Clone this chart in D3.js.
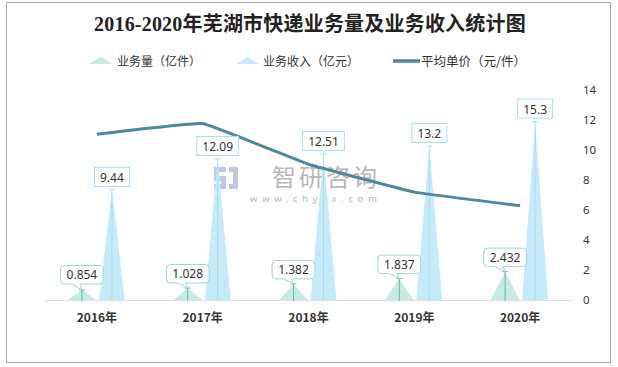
<!DOCTYPE html>
<html>
<head>
<meta charset="utf-8">
<script src="https://cdn.jsdelivr.net/npm/d3@7/dist/d3.min.js"></script>
<style>
html,body{margin:0;padding:0;background:#fff;}
svg{display:block;}
</style>
</head>
<body>
<svg id="chart" width="618" height="367"></svg>
<script>
const title = "2016-2020年芜湖市快递业务量及业务收入统计图";
const categories = ["2016年", "2017年", "2018年", "2019年", "2020年"];
const volume = [0.854, 1.028, 1.382, 1.837, 2.432];
const revenue = [9.44, 12.09, 12.51, 13.2, 15.3];
const price = [11.05, 11.76, 9.05, 7.19, 6.29];
const rightTicks = [0, 2, 4, 6, 8, 10, 12, 14];
const seriesNames = ["业务量（亿件）", "业务收入（亿元）", "平均单价（元/件）"];

const svg = d3.select("#chart");
const cjk = "'Noto Sans CJK SC','Noto Sans',sans-serif";
const num = "'Noto Sans','Noto Sans CJK SC',sans-serif";

const cVolFill = "#c9e9e3", cVolLine = "#62bbac", cVolBox = "#9fd7cf";
const cRevFill = "#c5ebf9", cRevLine = "#a6def1";
const cPrice = "#4f879b";

// border
svg.append("rect").attr("x", 6.5).attr("y", 2.5).attr("width", 604).attr("height", 360)
  .attr("fill", "#fff").attr("stroke", "#aaa").attr("stroke-width", 1);

// title
svg.append("text").attr("x", 310).attr("y", 31).attr("text-anchor", "middle")
  .attr("font-family", "'Liberation Serif','Noto Sans CJK SC',serif")
  .attr("font-size", 20).attr("font-weight", "bold").attr("letter-spacing", 0.2).attr("fill", "#222").text(title);

// scales
const x = d3.scaleBand().domain(categories).range([44, 573]);
const cx = d => x(d) + x.bandwidth() / 2;
const yL = d3.scaleLinear().domain([0, 18]).range([300, 90]);
const yR = d3.scaleLinear().domain([0, 14]).range([300, 90]);

// watermark
const wm = svg.append("g").attr("opacity", 0.7);
wm.append("path").attr("d", "M214,167h12v5h-7v4h7v13h-12v-5h7v-3h-7z M229,167h9v22h-9v-5h4v-12h-4z")
  .attr("fill", "#9fb3da");
wm.append("text").attr("x", 272).attr("y", 186).attr("font-family", cjk).attr("font-size", 24)
  .attr("letter-spacing", 3).attr("fill", "#9a9a9a").text("智研咨询");
wm.append("text").attr("x", 250).attr("y", 202).attr("font-family", num).attr("font-size", 9.5)
  .attr("letter-spacing", 4.6).attr("fill", "#9a9a9a").text("www.chyxx.com");

// baseline
svg.append("line").attr("x1", 44).attr("x2", 573).attr("y1", 300.5).attr("y2", 300.5)
  .attr("stroke", "#ddd").attr("stroke-width", 1);

// x axis labels
const xAxis = d3.axisBottom(x).tickSize(0).tickPadding(0);
const gx = svg.append("g").attr("transform", "translate(0,313)").call(xAxis);
gx.select(".domain").remove();
gx.selectAll("text").attr("font-family", cjk).attr("font-size", 12).attr("font-weight", "bold")
  .attr("fill", "#333").attr("dy", "0.71em");

// right axis
const yAxis = d3.axisRight(yR).tickValues(rightTicks).tickSize(0).tickPadding(0);
const gy = svg.append("g").attr("transform", "translate(583,0)").call(yAxis);
gy.select(".domain").remove();
gy.selectAll("text").attr("font-family", num).attr("font-size", 11.5).attr("fill", "#333");

const tri = (c, w, yTop) => `M${c - w / 2},300 L${c},${yTop} L${c + w / 2},300 Z`;

// volume triangles
categories.forEach((cat, i) => {
  const c = cx(cat) - 15;
  const yt = yL(volume[i]);
  svg.append("path").attr("d", tri(c, 29, yt)).attr("fill", cVolFill);
  svg.append("line").attr("x1", c).attr("x2", c).attr("y1", yt).attr("y2", 301)
    .attr("stroke", cVolLine).attr("stroke-width", 1);
  svg.append("line").attr("x1", c - 3).attr("x2", c + 3).attr("y1", yt).attr("y2", yt)
    .attr("stroke", cVolLine).attr("stroke-width", 1);
});

// revenue triangles
categories.forEach((cat, i) => {
  const c = cx(cat) + 15;
  const yt = yL(revenue[i]);
  svg.append("path").attr("d", tri(c, 26, yt)).attr("fill", cRevFill);
  svg.append("line").attr("x1", c).attr("x2", c).attr("y1", yt).attr("y2", 301)
    .attr("stroke", cRevLine).attr("stroke-width", 1);
  svg.append("line").attr("x1", c - 3).attr("x2", c + 3).attr("y1", yt).attr("y2", yt)
    .attr("stroke", cRevLine).attr("stroke-width", 1);
});

// price line
const line = d3.line().x((d, i) => cx(categories[i])).y(d => yR(d)).curve(d3.curveCardinal.tension(0.78));
svg.append("path").datum(price).attr("d", line).attr("fill", "none")
  .attr("stroke", cPrice).attr("stroke-width", 3).attr("stroke-linejoin", "round");

// revenue labels
categories.forEach((cat, i) => {
  const c = cx(cat) + 15;
  const yt = yL(revenue[i]);
  const g = svg.append("g");
  const t = g.append("text").attr("x", c).attr("y", yt - 8).attr("text-anchor", "middle")
    .attr("font-family", num).attr("font-size", 12).attr("fill", "#333").text(String(revenue[i]));
  const bb = t.node().getBBox();
  g.insert("rect", "text").attr("x", c - bb.width / 2 - 5.5).attr("y", yt - 22.5)
    .attr("width", bb.width + 11).attr("height", 19).attr("fill", "#fff")
    .attr("stroke", cRevLine).attr("stroke-width", 1);
});

// volume labels (callouts)
categories.forEach((cat, i) => {
  const c = cx(cat) - 15;
  const yt = yL(volume[i]);
  const g = svg.append("g");
  const bottom = Math.min(yt - 5, 284);
  const top = bottom - 19;
  const t = g.append("text").attr("x", c).attr("y", bottom - 5).attr("text-anchor", "middle")
    .attr("font-family", num).attr("font-size", 12).attr("fill", "#333").text(String(volume[i]));
  const bb = t.node().getBBox();
  const w = bb.width + 12, l = c - w / 2, r = c + w / 2, rad = 4;
  const p = d3.path();
  p.moveTo(l + rad, top + 0.5);
  p.lineTo(r - rad, top + 0.5);
  p.arcTo(r, top + 0.5, r, top + rad, rad);
  p.lineTo(r, bottom - rad);
  p.arcTo(r, bottom, r - rad, bottom, rad);
  p.lineTo(c - 2, bottom);
  p.lineTo(c, yt);
  p.lineTo(c - 10, bottom);
  p.lineTo(l + rad, bottom);
  p.arcTo(l, bottom, l, bottom - rad, rad);
  p.lineTo(l, top + rad);
  p.arcTo(l, top + 0.5, l + rad, top + 0.5, rad);
  p.closePath();
  g.insert("path", "text").attr("d", p.toString()).attr("fill", "#fff")
    .attr("stroke", cVolBox).attr("stroke-width", 1);
});

// legend
const lg = svg.append("g");
lg.append("path").attr("d", "M88,64 L100.5,57 L113,64 Z").attr("fill", cVolFill);
lg.append("text").attr("x", 117).attr("y", 65.5).attr("font-family", cjk).attr("font-size", 12)
  .attr("fill", "#333").text(seriesNames[0]);
lg.append("path").attr("d", "M236,64 L247.5,57 L259,64 Z").attr("fill", cRevFill);
lg.append("text").attr("x", 263).attr("y", 65.5).attr("font-family", cjk).attr("font-size", 12)
  .attr("fill", "#333").text(seriesNames[1]);
lg.append("line").attr("x1", 393).attr("x2", 420).attr("y1", 61).attr("y2", 61)
  .attr("stroke", cPrice).attr("stroke-width", 3.5);
lg.append("text").attr("x", 421).attr("y", 65.5).attr("font-family", cjk).attr("font-size", 12.5)
  .attr("fill", "#333").text(seriesNames[2]);
</script>
</body>
</html>
